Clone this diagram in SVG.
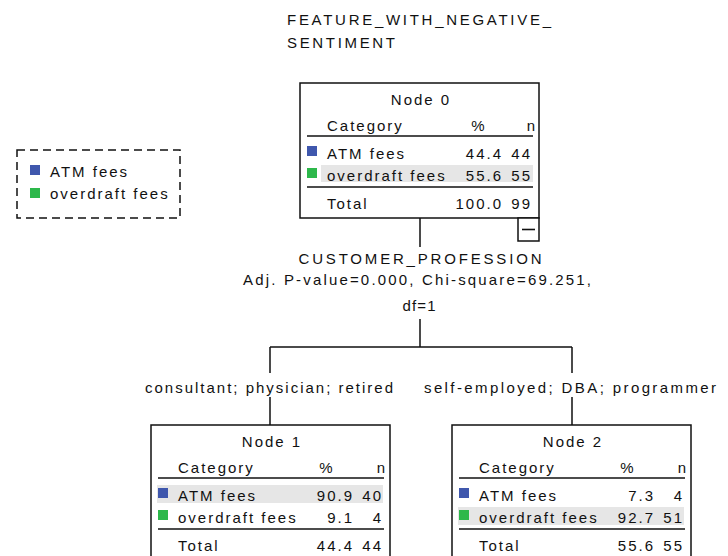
<svg xmlns="http://www.w3.org/2000/svg" width="728" height="556" viewBox="0 0 728 556">
<style>
text{font-family:"Liberation Sans",Arial,sans-serif;font-size:15px;fill:#111;letter-spacing:2px}
.m{text-anchor:middle}
.e{text-anchor:end}
.box{fill:#fff;stroke:#111;stroke-width:1.5}
.rule{stroke:#111;stroke-width:1.6}
.band{fill:#e6e6e6}
.blue{fill:#3f57ad}
.green{fill:#2db84b}
.conn{stroke:#111;stroke-width:1.5;fill:none}
</style>
<rect width="728" height="556" fill="#fff"/>
<g id="title">
<text x="287" y="25" textLength="266" lengthAdjust="spacing">FEATURE_WITH_NEGATIVE_</text>
<text x="287" y="48" textLength="110" lengthAdjust="spacing">SENTIMENT</text>
</g>
<g id="legend">
<rect x="17" y="150" width="163" height="68" fill="none" stroke="#111" stroke-width="1.5" stroke-dasharray="8 5"/>
<rect class="blue" x="30" y="165" width="10" height="10"/>
<text x="50" y="177">ATM fees</text>
<rect class="green" x="30" y="188" width="10" height="10"/>
<text x="50" y="199">overdraft fees</text>
</g>
<g id="connectors">
<path class="conn" d="M420 218V247M420 319V347M270 347H572M270 347V373M572 347V373M270 397V425M572 397V425"/>
</g>
<g id="split-label">
<text class="m" x="421" y="264" textLength="245" lengthAdjust="spacing">CUSTOMER_PROFESSION</text>
<text class="m" x="418" y="285" textLength="350" lengthAdjust="spacing">Adj. P-value=0.000, Chi-square=69.251,</text>
<text class="m" x="420" y="311" textLength="35" lengthAdjust="spacing">df=1</text>
<text class="m" x="270" y="393" textLength="250" lengthAdjust="spacing">consultant; physician; retired</text>
<text class="m" x="571" y="393" textLength="294" lengthAdjust="spacing">self-employed; DBA; programmer</text>
</g>
<g id="node0">
<rect class="box" x="300" y="83" width="239" height="135"/>
<text class="m" x="421" y="105">Node 0</text>
<text x="327" y="131">Category</text>
<text class="m" x="479" y="131">%</text>
<text class="e" x="537" y="131">n</text>
<line class="rule" x1="307" y1="136" x2="533" y2="136"/>
<rect class="blue" x="307" y="146" width="10" height="10"/>
<text x="327" y="159">ATM fees</text>
<text class="e" x="503" y="159">44.4</text>
<text class="e" x="532" y="159">44</text>
<rect class="band" x="321" y="165" width="212" height="17"/>
<rect class="green" x="307" y="168" width="10" height="10"/>
<text x="327" y="181">overdraft fees</text>
<text class="e" x="503" y="181">55.6</text>
<text class="e" x="532" y="181">55</text>
<line class="rule" x1="307" y1="187" x2="533" y2="187"/>
<text x="327" y="209">Total</text>
<text class="e" x="503" y="209">100.0</text>
<text class="e" x="532" y="209">99</text>
<rect class="box" x="518" y="218" width="21" height="23"/>
<line class="rule" x1="522" y1="229.5" x2="535" y2="229.5"/>
</g>
<g id="node1">
<rect class="box" x="151" y="425" width="239" height="140"/>
<text class="m" x="272" y="447">Node 1</text>
<text x="178" y="473">Category</text>
<text class="m" x="327" y="473">%</text>
<text class="e" x="387" y="473">n</text>
<line class="rule" x1="158" y1="478" x2="384" y2="478"/>
<rect class="band" x="157" y="485" width="226" height="18"/>
<rect class="blue" x="158" y="488" width="10" height="10"/>
<text x="178" y="501">ATM fees</text>
<text class="e" x="354" y="501">90.9</text>
<text class="e" x="383" y="501">40</text>
<rect class="green" x="158" y="510" width="10" height="10"/>
<text x="178" y="523">overdraft fees</text>
<text class="e" x="354" y="523">9.1</text>
<text class="e" x="383" y="523">4</text>
<line class="rule" x1="158" y1="529" x2="384" y2="529"/>
<text x="178" y="551">Total</text>
<text class="e" x="354" y="551">44.4</text>
<text class="e" x="383" y="551">44</text>
</g>
<g id="node2">
<rect class="box" x="452" y="425" width="239" height="140"/>
<text class="m" x="573" y="447">Node 2</text>
<text x="479" y="473">Category</text>
<text class="m" x="628" y="473">%</text>
<text class="e" x="688" y="473">n</text>
<line class="rule" x1="459" y1="478" x2="685" y2="478"/>
<rect class="blue" x="459" y="488" width="10" height="10"/>
<text x="479" y="501">ATM fees</text>
<text class="e" x="655" y="501">7.3</text>
<text class="e" x="684" y="501">4</text>
<rect class="band" x="458" y="507" width="226" height="18"/>
<rect class="green" x="459" y="510" width="10" height="10"/>
<text x="479" y="523">overdraft fees</text>
<text class="e" x="655" y="523">92.7</text>
<text class="e" x="684" y="523">51</text>
<line class="rule" x1="459" y1="529" x2="685" y2="529"/>
<text x="479" y="551">Total</text>
<text class="e" x="655" y="551">55.6</text>
<text class="e" x="684" y="551">55</text>
</g>
</svg>
